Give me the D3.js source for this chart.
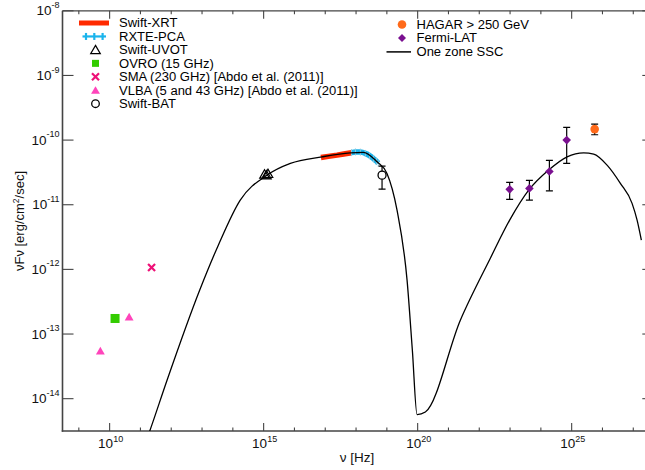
<!DOCTYPE html>
<html><head><meta charset="utf-8">
<script src="https://cdn.jsdelivr.net/npm/d3@7"></script>
<style>
html,body{margin:0;padding:0;background:#fff;}
svg{display:block;font-family:"Liberation Sans",Arial,sans-serif;}
</style></head>
<body><svg id="c" width="645" height="470"></svg>
<script>
// ---- data (nu [Hz], nuFnu [erg/cm2/s]) ----
const xrtNu   = [7.24e16, 1.26e17, 2.42e17, 3.98e17, 7.08e17];
const xrtF    = [5.37e-11, 5.6e-11, 5.86e-11, 6.1e-11, 6.35e-11];
const pcaNu   = [7.08e17, 9.55e17, 1.38e18, 2.0e18, 2.75e18, 3.72e18, 4.57e18, 5.25e18];
const pcaF    = [6.41e-11, 6.56e-11, 6.52e-11, 6.22e-11, 5.75e-11, 5.14e-11, 4.73e-11, 4.41e-11];
const uvotNu  = [1.07e15, 1.23e15, 1.38e15];
const uvotF   = [2.95e-11, 2.88e-11, 3.02e-11];
const ovroNu  = [1.5e10];
const ovroF   = [1.74e-13];
const smaNu   = [2.3e11];
const smaF    = [1.07e-12];
const vlbaNu  = [5e9, 4.3e10];
const vlbaF   = [5.3e-14, 1.78e-13];
const batNu   = [6.98e18];
const batF    = [2.87e-11];
const batHi   = [3.96e-11];
const batLo   = [1.74e-11];
const hagarNu = [5.58e25];
const hagarF  = [1.48e-10];
const hagarHi = [1.77e-10];
const hagarLo = [1.21e-10];
const latNu   = [9.70e22, 4.24e23, 1.89e24, 6.89e24];
const latF    = [1.73e-11, 1.79e-11, 3.27e-11, 1.0e-10];
const latHi   = [2.21e-11, 2.38e-11, 4.85e-11, 1.57e-10];
const latLo   = [1.21e-11, 1.18e-11, 1.64e-11, 4.36e-11];
const sscNu = [1.44e11,1.99e11,7.31e11,8.36e12,3.38e13,1.74e14,1.29e15,7.36e15,7.87e16,6.53e17,1.73e18,4.81e18,1.01e19,2.14e19,4.53e19,6.73e19,9.57e19,1.78e20,2.43e21,2.29e22,9.70e22,4.02e23,1.79e24,7.10e24,2.45e25,5.18e25,1.41e26,3.81e26,9.14e26,1.33e27,1.83e27];
const sscF  = [2.04e-15,3.13e-15,1.93e-14,4.76e-13,2.37e-12,1.18e-11,2.87e-11,4.36e-11,5.51e-11,6.35e-11,6.46e-11,4.61e-11,3.05e-11,8.24e-12,6.81e-13,5.61e-14,5.68e-15,6.22e-15,1.64e-13,1.49e-12,5.78e-12,1.68e-11,3.44e-11,5.51e-11,6.35e-11,6.07e-11,4.10e-11,2.14e-11,1.05e-11,5.78e-12,2.83e-12];
const xMajorExp = [10, 15, 20, 25];
const yMajorExp = [-14, -13, -12, -11, -10, -9, -8];
const legendLeft = ["Swift-XRT","RXTE-PCA","Swift-UVOT","OVRO (15 GHz)","SMA (230 GHz) [Abdo et al. (2011)]","VLBA (5 and 43 GHz) [Abdo et al. (2011)]","Swift-BAT"];
const legendRight = ["HAGAR > 250 GeV","Fermi-LAT","One zone SSC"];

// ---- layout ----
const L = 62.5, R = 653.3, T = 10.8, B = 431;
const x = d3.scaleLog().domain([Math.pow(10,8.47), Math.pow(10,27.65)]).range([L, R]);
const y = d3.scaleLog().domain([Math.pow(10,-14.5), 1e-8]).range([B, T]);
const svg = d3.select("#c");
const axisCol = "#444";
const C = {xrt:"#ff2a00", pca:"#1ab4ec", ovro:"#33cc00", sma:"#ee1177", vlba:"#ff44bb", hagar:"#ff6a1a", lat:"#7a1090"};

svg.append("clipPath").attr("id","clip").append("rect").attr("x",L).attr("y",T).attr("width",R-L).attr("height",B-T);

// ---- axes frame & ticks ----
const g = svg.append("g");
g.append("line").attr("x1",L).attr("x2",R).attr("y1",T).attr("y2",T).attr("stroke",axisCol).attr("stroke-width",1.2);
g.append("line").attr("x1",R).attr("x2",R).attr("y1",T).attr("y2",B).attr("stroke",axisCol).attr("stroke-width",1.2);
g.append("line").attr("x1",L).attr("x2",L).attr("y1",T).attr("y2",B+0.75).attr("stroke",axisCol).attr("stroke-width",1.6);
g.append("line").attr("x1",L-0.75).attr("x2",R).attr("y1",B).attr("y2",B).attr("stroke",axisCol).attr("stroke-width",1.6);

for (let e = 9; e <= 27; e++) {
  const xv = x(Math.pow(10,e));
  const len = (e % 5 === 0) ? 8 : 3.5;
  g.append("line").attr("x1",xv).attr("x2",xv).attr("y1",B).attr("y2",B-len).attr("stroke",axisCol).attr("stroke-width",1.1);
  g.append("line").attr("x1",xv).attr("x2",xv).attr("y1",T).attr("y2",T+len).attr("stroke",axisCol).attr("stroke-width",1.1);
}
yMajorExp.forEach(e => {
  const yv = y(Math.pow(10,e));
  g.append("line").attr("x1",L).attr("x2",L+11).attr("y1",yv).attr("y2",yv).attr("stroke",axisCol).attr("stroke-width",1.1);
  g.append("line").attr("x1",R).attr("x2",R-11).attr("y1",yv).attr("y2",yv).attr("stroke",axisCol).attr("stroke-width",1.1);
  const t = g.append("text").attr("x",59.5).attr("y",yv+4.6).attr("text-anchor","end").attr("font-size",13.5).attr("fill","#111");
  t.append("tspan").text("10");
  t.append("tspan").attr("dy",-7.5).attr("font-size",9).text(String(e));
});
xMajorExp.forEach(e => {
  const xv = x(Math.pow(10,e));
  const t = g.append("text").attr("x",xv+1).attr("y",447.5).attr("text-anchor","middle").attr("font-size",13.5).attr("fill","#111");
  t.append("tspan").text("10");
  t.append("tspan").attr("dy",-6).attr("font-size",9).text(String(e));
});
g.append("text").attr("x",357).attr("y",462).attr("text-anchor","middle").attr("font-size",13.5).attr("fill","#111").text("ν [Hz]");
const yl = g.append("text").attr("transform","translate(24,221) rotate(-90)").attr("text-anchor","middle").attr("font-size",13).attr("fill","#111");
yl.append("tspan").text("νFν [erg/cm");
yl.append("tspan").attr("dy",-5).attr("font-size",8.5).text("2");
yl.append("tspan").attr("dy",5).text("/sec]");

// ---- data layer ----
const p = svg.append("g").attr("clip-path","url(#clip)");

// XRT
p.append("path").datum(xrtNu.map((v,i)=>[v,xrtF[i]]))
  .attr("d", d3.line().x(d=>x(d[0])).y(d=>y(d[1])))
  .attr("fill","none").attr("stroke",C.xrt).attr("stroke-width",5.5);
// RXTE-PCA
const pca = pcaNu.map((v,i)=>[v,pcaF[i]]);
p.append("path").datum(pca)
  .attr("d", d3.line().x(d=>x(d[0])).y(d=>y(d[1])).curve(d3.curveMonotoneX))
  .attr("fill","none").attr("stroke",C.pca).attr("stroke-width",5.5);
pca.forEach(d => {
  p.append("line").attr("x1",x(d[0])).attr("x2",x(d[0])).attr("y1",y(d[1])-3.5).attr("y2",y(d[1])+3.5)
    .attr("stroke","#8fc9de").attr("stroke-width",1);
});

// SSC model
p.append("path").datum(sscNu.map((v,i)=>[v,sscF[i]]))
  .attr("d", d3.line().x(d=>x(d[0])).y(d=>y(d[1])).curve(d3.curveMonotoneX))
  .attr("fill","none").attr("stroke","#000").attr("stroke-width",1.3);

// error bars helper
function errBar(nu, lo, hi) {
  const xv = x(nu);
  p.append("line").attr("x1",xv).attr("x2",xv).attr("y1",y(lo)).attr("y2",y(hi)).attr("stroke","#000").attr("stroke-width",1.2);
  [lo,hi].forEach(v => p.append("line").attr("x1",xv-3.5).attr("x2",xv+3.5).attr("y1",y(v)).attr("y2",y(v)).attr("stroke","#000").attr("stroke-width",1.2));
}
const tri = d3.symbol().type(d3.symbolTriangle);
const diamPath = (cx, cy, r) => `M${cx},${cy-r}L${cx+r},${cy}L${cx},${cy+r}L${cx-r},${cy}Z`;

// UVOT
uvotNu.forEach((v,i) => {
  p.append("path").attr("d", tri.size(40)()).attr("transform",`translate(${x(v)},${y(uvotF[i])+1})`)
    .attr("fill","none").attr("stroke","#000").attr("stroke-width",1.2);
});
// OVRO
ovroNu.forEach((v,i) => p.append("rect").attr("x",x(v)-4.5).attr("y",y(ovroF[i])-4.5).attr("width",9).attr("height",9).attr("fill",C.ovro));
// SMA
smaNu.forEach((v,i) => {
  const cx = x(v), cy = y(smaF[i]);
  p.append("path").attr("d",`M${cx-3.5},${cy-3.5}L${cx+3.5},${cy+3.5}M${cx-3.5},${cy+3.5}L${cx+3.5},${cy-3.5}`)
    .attr("stroke",C.sma).attr("stroke-width",2.2);
});
// VLBA
vlbaNu.forEach((v,i) => p.append("path").attr("d", tri.size(34)()).attr("transform",`translate(${x(v)},${y(vlbaF[i])})`).attr("fill",C.vlba));
// BAT
batNu.forEach((v,i) => {
  errBar(v, batLo[i], batHi[i]);
  p.append("circle").attr("cx",x(v)).attr("cy",y(batF[i])).attr("r",4).attr("fill","#fff").attr("stroke","#000").attr("stroke-width",1.3);
});
// Fermi-LAT
latNu.forEach((v,i) => {
  errBar(v, latLo[i], latHi[i]);
  p.append("path").attr("d", diamPath(x(v), y(latF[i]), 4.3)).attr("fill",C.lat);
});
// HAGAR
hagarNu.forEach((v,i) => {
  errBar(v, hagarLo[i], hagarHi[i]);
  p.append("circle").attr("cx",x(v)).attr("cy",y(hagarF[i])).attr("r",4.3).attr("fill",C.hagar);
});

// ---- legends ----
const lg = svg.append("g").attr("font-size",12).attr("fill","#000");
function legText(xp, yp, name) {
  const t = lg.append("text").attr("x",xp).attr("y",yp).text(name);
  const w = t.node().getComputedTextLength();
  t.attr("textLength", w*1.085).attr("lengthAdjust","spacingAndGlyphs");
}
const ly0 = 23, ldy = 13.45, lsx = 95.5, ltx = 119;
legendLeft.forEach((name,i) => legText(ltx, ly0+i*ldy+4.4, name));
let yy = ly0;
lg.append("line").attr("x1",79).attr("x2",109).attr("y1",yy).attr("y2",yy).attr("stroke",C.xrt).attr("stroke-width",5);
yy = ly0+ldy;
lg.append("line").attr("x1",82.5).attr("x2",106).attr("y1",yy).attr("y2",yy).attr("stroke",C.pca).attr("stroke-width",2.2);
[86,94.3,102.6].forEach(cx => lg.append("line").attr("x1",cx).attr("x2",cx).attr("y1",yy-3.5).attr("y2",yy+3.5).attr("stroke",C.pca).attr("stroke-width",2.2));
yy = ly0+2*ldy;
lg.append("path").attr("d", tri.size(40)()).attr("transform",`translate(${lsx},${yy+1})`).attr("fill","none").attr("stroke","#000").attr("stroke-width",1.2);
yy = ly0+3*ldy;
lg.append("rect").attr("x",lsx-3.5).attr("y",yy-3.5).attr("width",7).attr("height",7).attr("fill",C.ovro);
yy = ly0+4*ldy;
lg.append("path").attr("d",`M${lsx-3.5},${yy-3.5}L${lsx+3.5},${yy+3.5}M${lsx-3.5},${yy+3.5}L${lsx+3.5},${yy-3.5}`).attr("stroke",C.sma).attr("stroke-width",2.2);
yy = ly0+5*ldy;
lg.append("path").attr("d", tri.size(34)()).attr("transform",`translate(${lsx},${yy+1})`).attr("fill",C.vlba);
yy = ly0+6*ldy;
lg.append("circle").attr("cx",lsx).attr("cy",yy).attr("r",3.8).attr("fill","none").attr("stroke","#000").attr("stroke-width",1.3);

const ry0 = 24.5, rdy = 13.45, rtx = 416.5, rsx = 402;
legendRight.forEach((name,i) => legText(rtx, ry0+i*rdy+4.4, name));
lg.append("circle").attr("cx",rsx).attr("cy",ry0).attr("r",4.3).attr("fill",C.hagar);
lg.append("path").attr("d", diamPath(rsx, ry0+rdy, 4)).attr("fill",C.lat);
lg.append("line").attr("x1",386.5).attr("x2",411).attr("y1",ry0+2*rdy+0.5).attr("y2",ry0+2*rdy+0.5).attr("stroke","#000").attr("stroke-width",1.5);
</script></body></html>
